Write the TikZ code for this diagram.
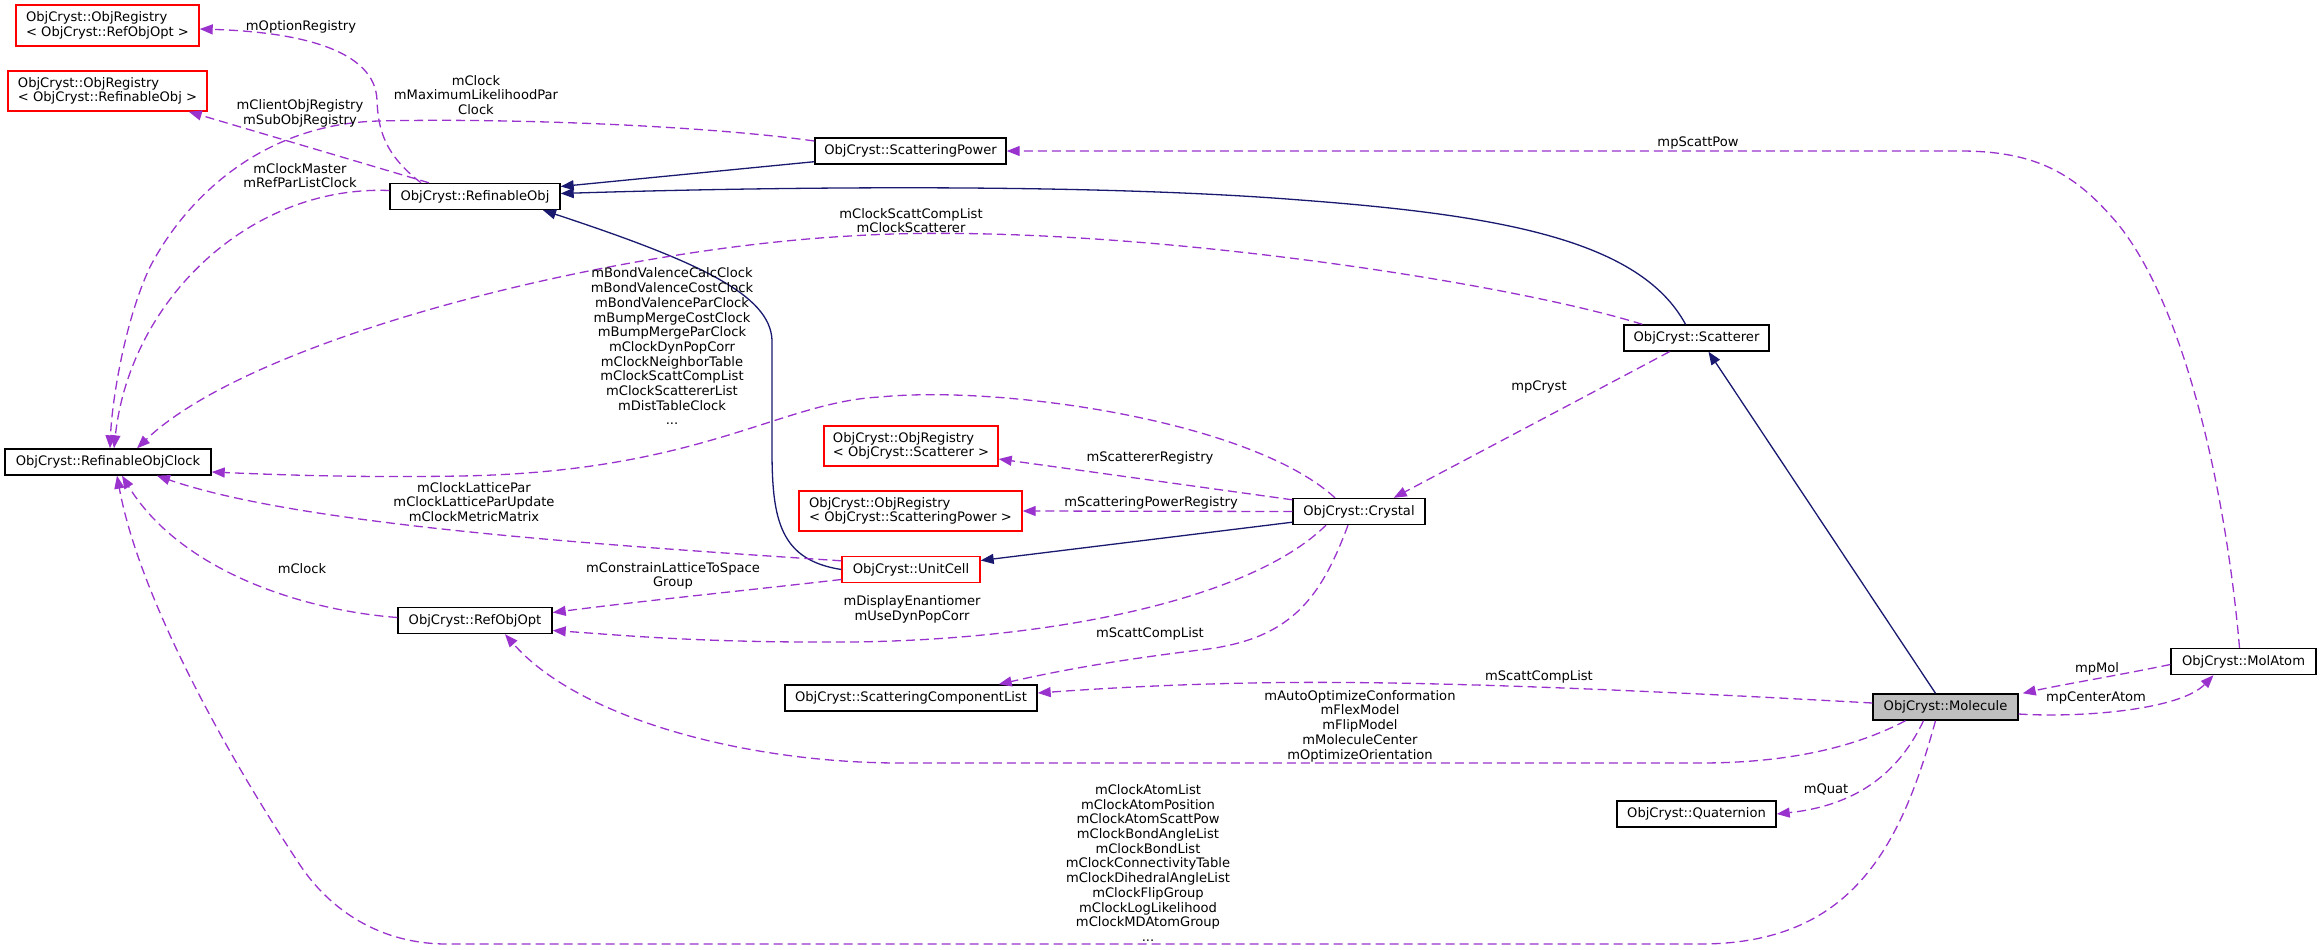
\documentclass[tikz,border=0pt]{standalone}
\usepackage{fontspec}
\setmainfont{DejaVu Sans}
\usepackage{tikz}
\usetikzlibrary{arrows.meta,calc}
\definecolor{inhc}{HTML}{191970}
\definecolor{usec}{HTML}{9A32CD}
\definecolor{curc}{HTML}{BFBFBF}
\newcommand\dxfont{\fontsize{13.1}{14.7}\selectfont}

\begin{document}
\begin{tikzpicture}[x=1pt,y=-1pt,
  cls/.style={draw=black, line width=1.4pt, minimum height=26pt, inner sep=0pt, font=\dxfont},
  tmplcls/.style={cls, draw=red, minimum height=40pt, align=left},
  inherit/.style={draw=inhc, line width=1.3pt, -{Triangle[length=13pt,width=10pt]}},
  member/.style={draw=usec, line width=1.3pt, dash pattern=on 9pt off 5pt, -{Triangle[length=13pt,width=10pt]}},
  lbl/.style={font=\dxfont, align=center, inner sep=0pt}]
  \useasboundingbox (0,0) rectangle (2321,950);
  % classes
  \node[tmplcls, minimum width=183pt, minimum height=41pt] (regopt) at (107.5,25.5)
    {ObjCryst::ObjRegistry\\< ObjCryst::RefObjOpt >};
  \node[tmplcls, minimum width=199pt] (regrefobj) at (107.5,91)
    {ObjCryst::ObjRegistry\\< ObjCryst::RefinableObj >};
  \node[cls, minimum width=170pt] (refobj) at (475,196.5) {ObjCryst::RefinableObj};
  \node[cls, minimum width=191pt] (scattpow) at (910.5,151) {ObjCryst::ScatteringPower};
  \node[cls, minimum width=206pt] (clock) at (108,462) {ObjCryst::RefinableObjClock};
  \node[cls, minimum width=145pt] (scatterer) at (1696.5,338) {ObjCryst::Scatterer};
  \node[tmplcls, minimum width=174pt] (regscatt) at (911,446)
    {ObjCryst::ObjRegistry\\< ObjCryst::Scatterer >};
  \node[tmplcls, minimum width=223pt] (regscattpow) at (910.5,511)
    {ObjCryst::ObjRegistry\\< ObjCryst::ScatteringPower >};
  \node[cls, minimum width=132pt] (crystal) at (1359,511.5) {ObjCryst::Crystal};
  \node[cls, draw=red, minimum width=138pt] (unitcell) at (911,569.5) {ObjCryst::UnitCell};
  \node[cls, minimum width=154pt] (refobjopt) at (475,620.5) {ObjCryst::RefObjOpt};
  \node[cls, minimum width=252pt] (scattcomp) at (911,698) {ObjCryst::ScatteringComponentList};
  \node[cls, fill=curc, minimum width=145pt] (molecule) at (1945.5,707) {ObjCryst::Molecule};
  \node[cls, minimum width=145pt] (molatom) at (2243.5,661.5) {ObjCryst::MolAtom};
  \node[cls, minimum width=159pt] (quaternion) at (1696.5,814) {ObjCryst::Quaternion};
  % inheritance
  \draw[inherit] ($(scattpow.south west)+(0,-3)$) -- ($(refobj.east)+(0,-10)$);
  \draw[inherit] ($(scatterer.north)+(-11,0)$) .. controls (1640,240) and (1500,215) .. (1300,200)
    .. controls (1100,184) and (800,186) .. ($(refobj.east)+(0,-3)$);
  \draw[inherit] (unitcell.west) .. controls (780,560) and (772,520) .. (772,450) -- (772,340)
    .. controls (770,295) and (700,262) .. ($(refobj.south)+(68,0)$);
  \draw[inherit] ($(crystal.south west)+(0,-3)$) -- ($(unitcell.east)+(0,-9)$);
  \draw[inherit] ($(molecule.north)+(-10,0)$) -- ($(scatterer.south)+(12,0)$);
  % members
  \draw[member] ($(refobj.north)+(-54,0)$) .. controls (385,155) and (378,130) .. (377,100)
    .. controls (375,50) and (300,32) .. ($(regopt.east)+(0,3.5)$);
  \draw[member] ($(refobj.north)+(-46,0)$) -- ($(regrefobj.south east)+(-19,0)$);
  \draw[member] ($(refobj.west)+(0,-6)$) .. controls (250,185) and (130,300) .. ($(clock.north)+(6,0)$);
  \draw[member] ($(scattpow.west)+(0,-10)$) .. controls (700,125) and (500,118) .. (379,121)
    .. controls (260,124) and (185,200) .. (150,267) .. controls (125,320) and (112,400) .. ($(clock.north)+(2,0)$);
  \draw[member] ($(scatterer.north west)+(19,0)$) .. controls (1500,280) and (1100,220) .. (850,236)
    .. controls (600,250) and (250,340) .. ($(clock.north)+(29,0)$);
  \draw[member] ($(crystal.north)+(-24,0)$) .. controls (1250,420) and (1000,385) .. (880,397)
    .. controls (780,402) and (700,472) .. (460,476) .. controls (350,478) and (260,474) .. ($(clock.east)+(0,10)$);
  \draw[member] ($(unitcell.north west)+(0,5)$) .. controls (600,545) and (300,525) .. ($(clock.south)+(49,0)$);
  \draw[member] ($(refobjopt.west)+(0,-3)$) .. controls (300,610) and (180,570) .. ($(clock.south)+(14,0)$);
  \draw[member] ($(unitcell.west)+(0,10)$) .. controls (750,590) and (650,600) .. ($(refobjopt.east)+(0,-8)$);
  \draw[member] ($(crystal.south)+(-33,0)$) .. controls (1250,600) and (1050,640) .. (850,642)
    .. controls (700,643) and (620,635) .. ($(refobjopt.east)+(0,10)$);
  \draw[member] ($(crystal.south)+(-11,0)$) .. controls (1320,600) and (1290,640) .. (1200,650)
    .. controls (1100,662) and (1040,675) .. ($(scattcomp.north east)+(-39,0)$);
  \draw[member] ($(crystal.north west)+(0,2)$) -- ($(regscatt.east)+(0,13)$);
  \draw[member] (crystal.west) -- (regscattpow.east);
  \draw[member] ($(scatterer.south)+(-27,0)$) -- ($(crystal.north east)+(-32,0)$);
  \draw[member] ($(molecule.west)+(0,-4)$) .. controls (1600,688) and (1400,680) .. (1250,683)
    .. controls (1150,685) and (1080,690) .. ($(scattcomp.east)+(0,-5)$);
  \draw[member] ($(molecule.south)+(-40,0)$) .. controls (1850,750) and (1780,763) .. (1700,763) -- (900,763)
    .. controls (750,763) and (580,720) .. ($(refobjopt.south)+(30,0)$);
  \draw[member] ($(molecule.south)+(-22,0)$) .. controls (1900,770) and (1860,805) .. (quaternion.east);
  \draw[member] ($(molecule.south)+(-10,0)$) .. controls (1900,850) and (1850,944) .. (1700,944) -- (447,944)
    .. controls (380,944) and (330,910) .. (300,865) .. controls (230,760) and (140,600) .. ($(clock.south)+(9,0)$);
  \draw[member] ($(molatom.west)+(0,3)$) .. controls (2120,675) and (2060,685) .. ($(molecule.north east)+(4,0)$);
  \draw[member] ($(molecule.east)+(0,7)$) .. controls (2080,718) and (2180,710) .. ($(molatom.south)+(-30,0)$);
  \draw[member] ($(molatom.north)+(-4,0)$) .. controls (2225,480) and (2180,290) .. (2110,215)
    .. controls (2070,170) and (2030,151) .. (1960,151) -- (scattpow.east);
  % labels
  \node[lbl] (lOptReg) at (301,27) {mOptionRegistry};
  \node[lbl] (lClientReg) at (300,113.5) {mClientObjRegistry\\mSubObjRegistry};
  \node[lbl] (lClockMaster) at (300,175.5) {mClockMaster\\mRefParListClock};
  \node[lbl] (lPowClock) at (476,95) {mClock\\mMaximumLikelihoodPar\\Clock};
  \node[lbl] (lScattClock) at (911,220.5) {mClockScattCompList\\mClockScatterer};
  \node[lbl] (lCrystClock) at (672,346.5) {mBondValenceCalcClock\\mBondValenceCostClock\\mBondValenceParClock\\mBumpMergeCostClock\\mBumpMergeParClock\\mClockDynPopCorr\\mClockNeighborTable\\mClockScattCompList\\mClockScattererList\\mDistTableClock\\...};
  \node[lbl] (lLattice) at (474,502) {mClockLatticePar\\mClockLatticeParUpdate\\mClockMetricMatrix};
  \node[lbl] (lOptClock) at (302,569) {mClock};
  \node[lbl] (lConstrain) at (673,576) {mConstrainLatticeToSpace\\Group};
  \node[lbl] (lEnantio) at (912,609.5) {mDisplayEnantiomer\\mUseDynPopCorr};
  \node[lbl] (lCrystComp) at (1150,634) {mScattCompList};
  \node[lbl] (lScattReg) at (1150,458) {mScattererRegistry};
  \node[lbl] (lPowReg) at (1151,503) {mScatteringPowerRegistry};
  \node[lbl] (lCryst) at (1539,387) {mpCryst};
  \node[lbl] (lMolComp) at (1539,677) {mScattCompList};
  \node[lbl] (lAuto) at (1360,726) {mAutoOptimizeConformation\\mFlexModel\\mFlipModel\\mMoleculeCenter\\mOptimizeOrientation};
  \node[lbl] (lQuat) at (1826,789) {mQuat};
  \node[lbl] (lMolClock) at (1148,863) {mClockAtomList\\mClockAtomPosition\\mClockAtomScattPow\\mClockBondAngleList\\mClockBondList\\mClockConnectivityTable\\mClockDihedralAngleList\\mClockFlipGroup\\mClockLogLikelihood\\mClockMDAtomGroup\\...};
  \node[lbl] (lMol) at (2097,669) {mpMol};
  \node[lbl] (lCenter) at (2096,698) {mpCenterAtom};
  \node[lbl] (lScattPow) at (1698,143) {mpScattPow};
\end{tikzpicture}
\end{document}
